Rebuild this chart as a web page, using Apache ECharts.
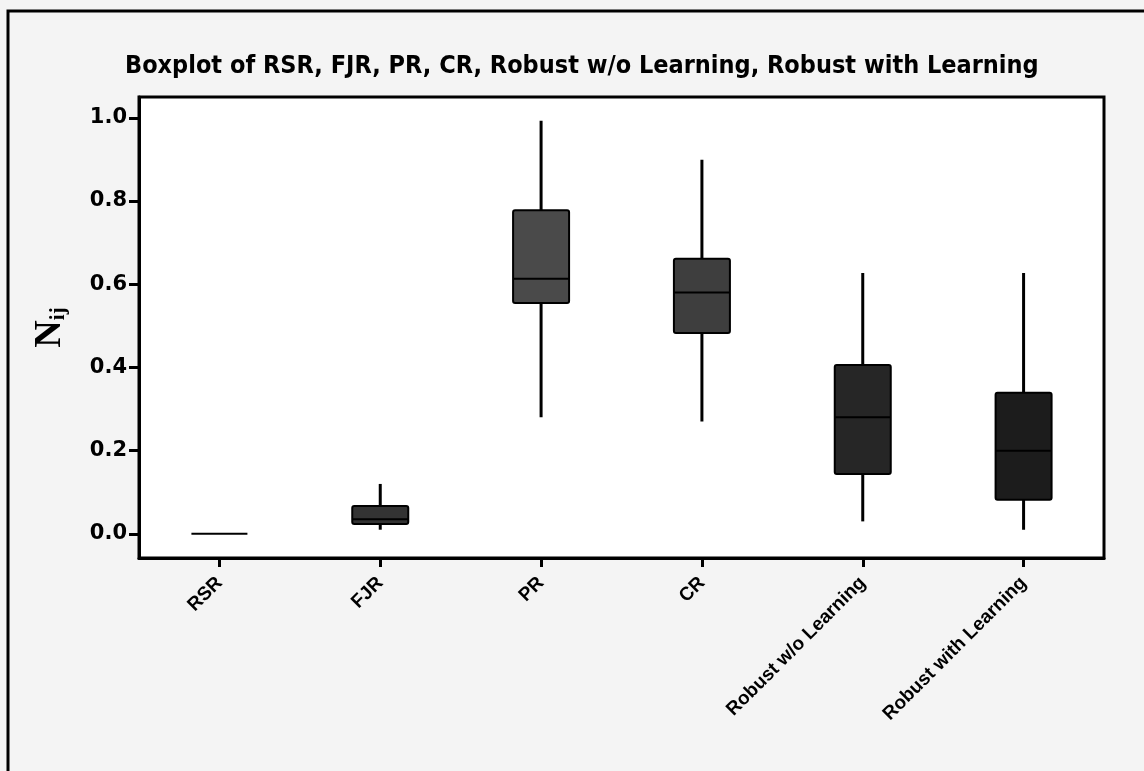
<!DOCTYPE html>
<html>
<head>
<meta charset="utf-8">
<script src="https://cdn.jsdelivr.net/npm/echarts@6/dist/echarts.min.js"></script>
<style>
  html, body { margin: 0; padding: 0; background: #ffffff; }
  #chart { width: 1144px; height: 771px; }
</style>
</head>
<body>
<div id="chart"></div>
<script>
// ---- data ----
const categories = ['RSR', 'FJR', 'PR', 'CR', 'Robust w/o Learning', 'Robust with Learning'];
const minValues    = [0, 0.010, 0.280, 0.270, 0.030, 0.010];
const q1Values     = [0, 0.024, 0.555, 0.483, 0.144, 0.082];
const medianValues = [0, 0.035, 0.613, 0.580, 0.280, 0.200];
const q3Values     = [0, 0.067, 0.778, 0.661, 0.406, 0.339];
const maxValues    = [0, 0.120, 0.993, 0.899, 0.627, 0.627];
const yTickValues  = [0, 0.2, 0.4, 0.6, 0.8, 1.0];
const titleText = 'Boxplot of RSR, FJR, PR, CR, Robust w/o Learning, Robust with Learning';

// ---- styles ----
const boxFills = ['#3a3a3a', '#333333', '#4a4a4a', '#3e3e3e', '#262626', '#1c1c1c'];
const BOX_W = 56;

const seriesData = categories.map((c, i) =>
  [i, minValues[i], q1Values[i], medianValues[i], q3Values[i], maxValues[i]]);

const chart = echarts.init(document.getElementById('chart'), null, { renderer: 'canvas' });

function renderBox(params, api) {
  const idx = api.value(0);
  const pMin = api.coord([idx, api.value(1)]);
  const pQ1  = api.coord([idx, api.value(2)]);
  const pMed = api.coord([idx, api.value(3)]);
  const pQ3  = api.coord([idx, api.value(4)]);
  const pMax = api.coord([idx, api.value(5)]);
  const x = pMin[0];
  const half = BOX_W / 2;
  const fill = boxFills[idx % boxFills.length];
  const children = [];
  if (pMin[1] - pMax[1] > 0.5) {
    children.push({ type: 'line', shape: { x1: x, y1: pMax[1], x2: x, y2: pMin[1] },
      style: { stroke: '#000', lineWidth: 3 } });
  }
  if (pQ1[1] - pQ3[1] > 0.5) {
    children.push({ type: 'rect', shape: { x: x - half, y: pQ3[1], width: BOX_W, height: pQ1[1] - pQ3[1], r: 2 },
      style: { fill: fill, stroke: '#000', lineWidth: 2 } });
  }
  children.push({ type: 'line', shape: { x1: x - half, y1: pMed[1], x2: x + half, y2: pMed[1] },
    style: { stroke: '#000', lineWidth: 2 } });
  return { type: 'group', children: children };
}

const option = {
  backgroundColor: '#f4f4f4',
  animation: false,
  title: {
    text: titleText,
    left: 120,
    top: 49,
    textStyle: {
      fontFamily: "'Liberation Sans Narrow', 'DejaVu Sans Condensed', sans-serif",
      fontSize: 25,
      fontWeight: 'bold',
      color: '#000'
    }
  },
  grid: {
    left: 139, right: 40, top: 97, bottom: 213,
    show: true, backgroundColor: '#ffffff', borderColor: '#000', borderWidth: 3
  },
  xAxis: {
    type: 'category',
    data: categories,
    boundaryGap: true,
    axisLine: { show: true, onZero: false, lineStyle: { color: '#000', width: 3 } },
    axisTick: { show: true, alignWithLabel: true, length: 9, lineStyle: { color: '#000', width: 3 } },
    axisLabel: {
      rotate: 45, margin: 22, color: '#000',
      fontFamily: "'Liberation Sans', Arial, sans-serif",
      fontSize: 19, fontWeight: 'bold'
    },
    splitLine: { show: false }
  },
  yAxis: {
    type: 'value',
    min: -0.058,
    max: 1.05,
    name: '{n|N}{s|ij}',
    nameLocation: 'middle',
    nameRotate: 90,
    nameGap: 70,
    nameTextStyle: {
      rich: {
        n: { fontFamily: "'Liberation Serif', 'Times New Roman', serif", fontWeight: 'bold', fontSize: 38, color: '#000' },
        s: { fontFamily: "'Liberation Serif', 'Times New Roman', serif", fontWeight: 'bold', fontSize: 21, color: '#000', verticalAlign: 'bottom', padding: [14, 0, 0, 0] }
      }
    },
    axisLine: { show: true, lineStyle: { color: '#000', width: 3 } },
    axisTick: { show: true, length: 10, customValues: yTickValues, lineStyle: { color: '#000', width: 3 } },
    axisLabel: {
      customValues: yTickValues,
      formatter: v => v.toFixed(1),
      margin: 12, color: '#000',
      fontFamily: "'DejaVu Sans', Verdana, sans-serif",
      fontSize: 21, fontWeight: 'bold'
    },
    splitLine: { show: false }
  },
  graphic: [
    { type: 'polyline', silent: true, z: 100,
      shape: { points: [[8, 771], [8, 11], [1144, 11]] },
      style: { stroke: '#000', lineWidth: 3, fill: null } }
  ],
  series: [{
    type: 'custom',
    renderItem: renderBox,
    encode: { x: 0, y: [1, 2, 3, 4, 5] },
    data: seriesData,
    clip: false
  }]
};
chart.setOption(option);
</script>
</body>
</html>
